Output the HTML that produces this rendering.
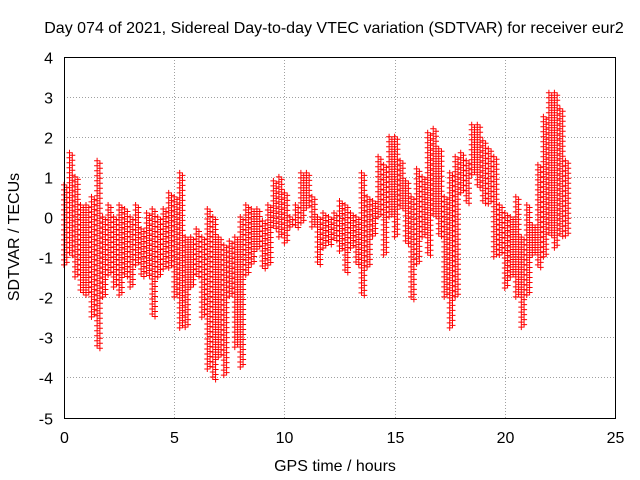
<!DOCTYPE html>
<html><head><meta charset="utf-8"><style>
html,body{margin:0;padding:0;background:#fff;}
svg{display:block;font-family:"Liberation Sans",sans-serif;}
</style></head><body>
<svg id="chart" width="640" height="480" viewBox="0 0 640 480">
<text x="334" y="33" font-size="16" text-anchor="middle">Day 074 of 2021, Sidereal Day-to-day VTEC variation (SDTVAR) for receiver eur2</text>
<text x="335" y="471" font-size="16" text-anchor="middle">GPS time / hours</text>
<text transform="translate(19,237) rotate(-90)" font-size="16" text-anchor="middle">SDTVAR / TECUs</text>
<g id="grid"></g>
<g id="ticks"></g>
<path id="marks" fill="none" stroke="#ff0000" stroke-width="1"></path>
<rect x="64.5" y="57.5" width="551" height="361" fill="none" stroke="#000"></rect>
</svg>
<script>
const xTicks=[0,5,10,15,20,25];
const yTicks=[-5,-4,-3,-2,-1,0,1,2,3,4];
const times=[0,0.25,0.5,0.75,1,1.25,1.5,1.75,2,2.25,2.5,2.75,3,3.25,3.5,3.75,4,4.25,4.5,4.75,5,5.25,5.5,5.75,6,6.25,6.5,6.75,7,7.25,7.5,7.75,8,8.25,8.5,8.75,9,9.25,9.5,9.75,10,10.25,10.5,10.75,11,11.25,11.5,11.75,12,12.25,12.5,12.75,13,13.25,13.5,13.75,14,14.25,14.5,14.75,15,15.25,15.5,15.75,16,16.25,16.5,16.75,17,17.25,17.5,17.75,18,18.25,18.5,18.75,19,19.25,19.5,19.75,20,20.25,20.5,20.75,21,21.25,21.5,21.75,22,22.25,22.5,22.75];
const lows=[-1.2,-1,-1.5,-1.9,-2,-2.5,-3.3,-2,-1.5,-1.8,-2,-1.5,-1.8,-1.2,-1.5,-1.5,-2.5,-1.5,-1.3,-1.3,-2,-2.8,-2.8,-1.8,-1.5,-2.5,-3.8,-4.1,-3.5,-4,-2,-3.3,-3.8,-1.5,-1.2,-0.8,-1.3,-1.2,-0.3,-0.5,-0.7,-0.3,-0.3,-0.2,0.2,-0.3,-1.2,-0.8,-0.7,-0.6,-0.9,-1.4,-0.8,-1.2,-2,-1.3,-0.5,0,-1,0,-0.5,0.2,-0.7,-2.1,-1.2,-0.5,-1,0,-0.5,-2,-2.8,-2,0.6,0.3,1,0.7,0.3,0.3,-1,-1,-1.8,-1.5,-2,-2.8,-2,-1,-1.3,-1,-0.5,-0.8,-0.5,-0.5];
const highs=[0.8,1.6,1,0.3,0.3,0.5,1.4,0,0.3,0,0.3,0.2,0,0.3,-0.3,0.1,0.2,0,0.2,0.6,0.5,1.1,-0.5,-0.5,-0.3,-0.5,0.2,0,-0.5,-0.7,-0.6,-0.5,0,0.3,0.2,0.2,-0.1,0.3,0.9,1,0.6,0,0.3,1.1,1.1,0.5,0,0.1,0,0.1,0.4,0.3,0.1,0,1.1,0.5,0.4,1.5,1.3,2,2,1.4,0.9,0.5,1.2,1,2.1,2.2,1.7,0.5,1.1,1.5,1.6,1.4,2.3,2.3,1.9,1.7,1.5,0.3,0.1,0,0.5,-0.5,0.3,-0.2,1.3,2.5,3.1,3.1,2.7,1.4];
const X=t=>64+t*(551/25);
const Y=v=>217-v*(361/9);
const NS="http://www.w3.org/2000/svg";
const grid=document.getElementById('grid'),ticks=document.getElementById('ticks');
xTicks.forEach(t=>{
  const x=Math.round(X(t))+0.5;
  if(t>0&&t<25){const l=document.createElementNS(NS,'line');
  l.setAttribute('x1',x);l.setAttribute('x2',x);l.setAttribute('y1',57);l.setAttribute('y2',418);
  l.setAttribute('stroke','#a0a0a0');l.setAttribute('stroke-dasharray','1,2');
  
  
  grid.appendChild(l);}
  const tx=document.createElementNS(NS,'text');
  tx.setAttribute('x',x);tx.setAttribute('y',443);tx.setAttribute('font-size','16');tx.setAttribute('text-anchor','middle');
  tx.textContent=t;
  
  
  ticks.appendChild(tx);
});
yTicks.forEach(v=>{
  const y=Math.round(Y(v))+0.5;
  if(v>-5&&v<4){const l=document.createElementNS(NS,'line');
  l.setAttribute('x1',64);l.setAttribute('x2',615);l.setAttribute('y1',y);l.setAttribute('y2',y);
  l.setAttribute('stroke','#a0a0a0');l.setAttribute('stroke-dasharray','1,2');
  
  
  grid.appendChild(l);}
  const tx=document.createElementNS(NS,'text');
  tx.setAttribute('x',53);tx.setAttribute('y',y+6);tx.setAttribute('font-size','16');tx.setAttribute('text-anchor','end');
  tx.textContent=v;
  
  
  ticks.appendChild(tx);
});
let d='';
const s=3;
for(let i=0;i<times.length;i++){
  const x0=X(times[i]);
  for(let k=0;k<2;k++){
    const x=x0+k*2.8;
    const y1=Y(highs[i]),y2=Y(lows[i]);
    const off=k*2.5;
    for(let y=y1+off;y<=y2;y+=5){
      d+=`M${(x-s).toFixed(1)} ${y.toFixed(1)}h${2*s}M${x.toFixed(1)} ${(y-s).toFixed(1)}v${2*s}`;
    }
  }
}
document.getElementById('marks').setAttribute('d',d);
</script>
</body></html>
